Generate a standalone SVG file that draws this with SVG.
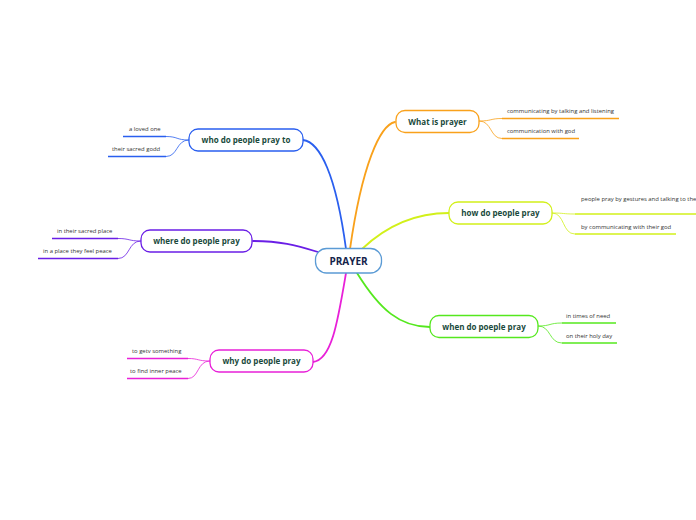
<svg xmlns="http://www.w3.org/2000/svg" width="696" height="520" viewBox="0 0 696 520">
<style>
.node{fill:#fff;stroke-width:1.3}
.nt{font-family:"Open Sans","Noto Sans",sans-serif;font-weight:bold;font-size:8px;fill:#1a4a3c;text-anchor:middle}
.st{font-family:"Open Sans","Noto Sans",sans-serif;font-size:5.9px;fill:#333}
.br{fill:none;stroke-width:1.8;stroke-linecap:round}
.sub{fill:none;stroke-width:0.8}
.ul{stroke-width:1.6}
</style>
<rect width="696" height="520" fill="#fff"/>
<g id="connectors">
<path class="br" stroke="#2a5fef" d="M303,140 C320,142 336,175 346,249"/>
<path class="br" stroke="#f9a11b" d="M395,122 C380,125 362,165 350,249"/>
<path class="br" stroke="#d2f01a" d="M362,249 C382,230 410,213 449,213"/>
<path class="br" stroke="#55e81e" d="M357,273 C380,310 400,327 430,327"/>
<path class="br" stroke="#e820d8" d="M346,273 C338,320 332,360 313,362"/>
<path class="br" stroke="#6a1ee6" d="M318,252 C295,245 280,241 253,241"/>
<path class="sub" stroke="#f9a11b" d="M479,121 C492,121 490,118.5 502,118.5 M479,121 C492,121 490,138.5 502,138.5"/>
<path class="sub" stroke="#d2f01a" d="M552,213 C565,213 562,214 575,214 M552,213 C565,213 562,234 575,234"/>
<path class="sub" stroke="#55e81e" d="M538,326 C551,326 549,323 562,323 M538,326 C551,326 549,343 562,343"/>
<path class="sub" stroke="#2a5fef" d="M189,140 C176,140 178,136.5 166,136.5 M189,140 C176,140 178,156.5 166,156.5"/>
<path class="sub" stroke="#6a1ee6" d="M141,241 C128,241 130,238.5 118,238.5 M141,241 C128,241 130,258.5 118,258.5"/>
<path class="sub" stroke="#e820d8" d="M210,361 C197,361 199,358.5 188,358.5 M210,361 C197,361 199,378.5 188,378.5"/>
</g>
<g id="prayer">
<rect x="315.5" y="248.5" width="66" height="24.5" rx="11" fill="#fff" stroke="#5b9bd5" stroke-width="1.3"/>
<text x="348.5" y="264.5" font-family="'Open Sans','Noto Sans',sans-serif" font-weight="bold" font-size="10px" fill="#14234a" text-anchor="middle">PRAYER</text>
</g>
<g id="what">
<rect class="node" stroke="#f9a11b" x="396" y="110.5" width="83" height="22" rx="9"/>
<text class="nt" x="437.5" y="124.5">What is prayer</text>
</g>
<g id="what-1"><text class="st" x="507" y="113">communicating by talking and listening</text><line class="ul" stroke="#f9a11b" x1="502" y1="118.5" x2="619" y2="118.5"/></g>
<g id="what-2"><text class="st" x="507" y="133">communication with god</text><line class="ul" stroke="#f9a11b" x1="502" y1="138.5" x2="579" y2="138.5"/></g>
<g id="how">
<rect class="node" stroke="#d2f01a" x="449" y="202" width="103" height="22" rx="9"/>
<text class="nt" x="500.5" y="216">how do people pray</text>
</g>
<g id="how-1"><text class="st" x="581" y="201">people pray by gestures and talking to the</text><line class="ul" stroke="#d2f01a" x1="575" y1="214" x2="696" y2="214"/></g>
<g id="how-2"><text class="st" x="581" y="229">by communicating with their god</text><line class="ul" stroke="#d2f01a" x1="575" y1="234" x2="676" y2="234"/></g>
<g id="when">
<rect class="node" stroke="#55e81e" x="430" y="315.5" width="108" height="22" rx="9"/>
<text class="nt" x="484" y="329.5">when do poeple pray</text>
</g>
<g id="when-1"><text class="st" x="566" y="318">in times of need</text><line class="ul" stroke="#55e81e" x1="562" y1="323" x2="616" y2="323"/></g>
<g id="when-2"><text class="st" x="566" y="338">on their holy day</text><line class="ul" stroke="#55e81e" x1="562" y1="343" x2="617" y2="343"/></g>
<g id="who">
<rect class="node" stroke="#2a5fef" x="189" y="129" width="114" height="22" rx="9"/>
<text class="nt" x="246" y="143">who do people pray to</text>
</g>
<g id="who-1"><text class="st" x="129" y="131">a loved one</text><line class="ul" stroke="#2a5fef" x1="123" y1="136.5" x2="166" y2="136.5"/></g>
<g id="who-2"><text class="st" x="112" y="151">their sacred godd</text><line class="ul" stroke="#2a5fef" x1="108" y1="156.5" x2="166" y2="156.5"/></g>
<g id="where">
<rect class="node" stroke="#6a1ee6" x="141" y="230" width="111" height="22" rx="9"/>
<text class="nt" x="196.5" y="244">where do people pray</text>
</g>
<g id="where-1"><text class="st" x="57" y="233">in their sacred place</text><line class="ul" stroke="#6a1ee6" x1="52" y1="238.5" x2="118" y2="238.5"/></g>
<g id="where-2"><text class="st" x="43" y="253">in a place they feel peace</text><line class="ul" stroke="#6a1ee6" x1="38" y1="258.5" x2="118" y2="258.5"/></g>
<g id="why">
<rect class="node" stroke="#e820d8" x="210" y="350" width="103" height="22" rx="9"/>
<text class="nt" x="261.5" y="364">why do people pray</text>
</g>
<g id="why-1"><text class="st" x="132" y="353">to getv something</text><line class="ul" stroke="#e820d8" x1="127" y1="358.5" x2="188" y2="358.5"/></g>
<g id="why-2"><text class="st" x="130" y="373">to find inner peace</text><line class="ul" stroke="#e820d8" x1="127" y1="378.5" x2="188" y2="378.5"/></g>
</svg>
